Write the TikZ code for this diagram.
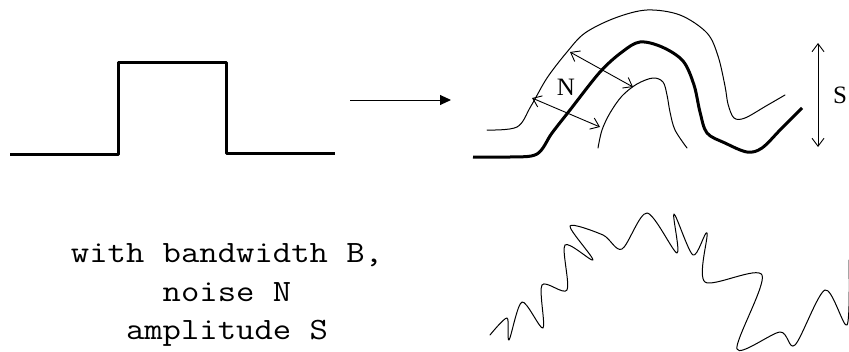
\documentclass[tikz,border=0pt]{standalone}
\usepackage{fontspec}
\setmainfont{Liberation Serif}
\usetikzlibrary{arrows.meta}
\tikzset{
  thin line/.style={line width=1pt, line join=round, line cap=round},
  thick line/.style={line width=3pt, line join=round},
  dbl arrow/.style={line width=0.9pt, {Straight Barb[length=8pt,width=12pt]}-{Straight Barb[length=8pt,width=12pt]}},
  lbl/.style={font=\fontsize{25}{30}\selectfont, inner sep=0pt},
}
\begin{document}
\begin{tikzpicture}[x=1pt,y=-1pt]
\useasboundingbox (0,0) rectangle (849,351);
% step pulse
\draw[thick line] (10,154) -- (118,154) -- (118,62) -- (226,62) -- (226,153) -- (335,153);
% arrow
\coordinate (a1) at (350,100);
\coordinate (a2) at (451,100);
\draw[line width=1pt, -{Triangle[length=11pt,width=10pt]}] (a1) -- (a2);
% thick signal
\draw[thick line] plot[smooth, tension=0.55] coordinates {(473,157) (510,157) (537,154) (552,133) (570,110) (600,72) (622,52) (640,42) (662,47) (683,61) (694,85) (700,112) (707,133) (725,143) (747,152) (762,148) (781,129) (802,108)};
% upper noise band
\draw[thin line] plot[smooth, tension=0.55] coordinates {(487,130) (517,127) (531,106) (547,78) (567,52) (585,33) (615,18) (647,10) (680,15) (707,33) (718,56) (725,86) (728,104) (734,118) (745,118) (766,106) (785,95)};
% lower noise band
\draw[thin line] plot[smooth, tension=0.55] coordinates {(598,148) (602,130) (610,113) (622,96) (637,84) (653,78) (663,82) (667,95) (670,112) (675,130) (687,148)};
% N arrows
\coordinate (n1a) at (570,52);
\coordinate (n1b) at (633,87);
\coordinate (n2a) at (532,98);
\coordinate (n2b) at (600,127);
\draw[dbl arrow] (n1a) -- (n1b);
\draw[dbl arrow] (n2a) -- (n2b);
\node[lbl] (N) at (566,87) {N};
% S arrow
\coordinate (s1) at (818,43);
\coordinate (s2) at (818,147);
\draw[dbl arrow] (s1) -- (s2);
\node[lbl] (S) at (840,95) {S};
% noisy signal
\draw[thin line] plot[smooth, tension=0.5] coordinates {(490,335) (507,318) (509,340) (522,302) (543,328) (542,285) (567,290) (565,245) (593,260) (570,226) (603,235) (622,249) (647,213) (677,253) (674,214) (693,255) (707,233) (705,282) (762,275) (737,349) (780,332) (795,345) (825,290) (847,325) (849,260)};
% text
\node[font=\ttfamily\fontsize{31}{38.5}\selectfont, align=center, inner sep=0pt, xscale=1.15, transform shape] (txt) at (227,295) {with bandwidth B,\\noise N\\amplitude S};
\end{tikzpicture}
\end{document}
